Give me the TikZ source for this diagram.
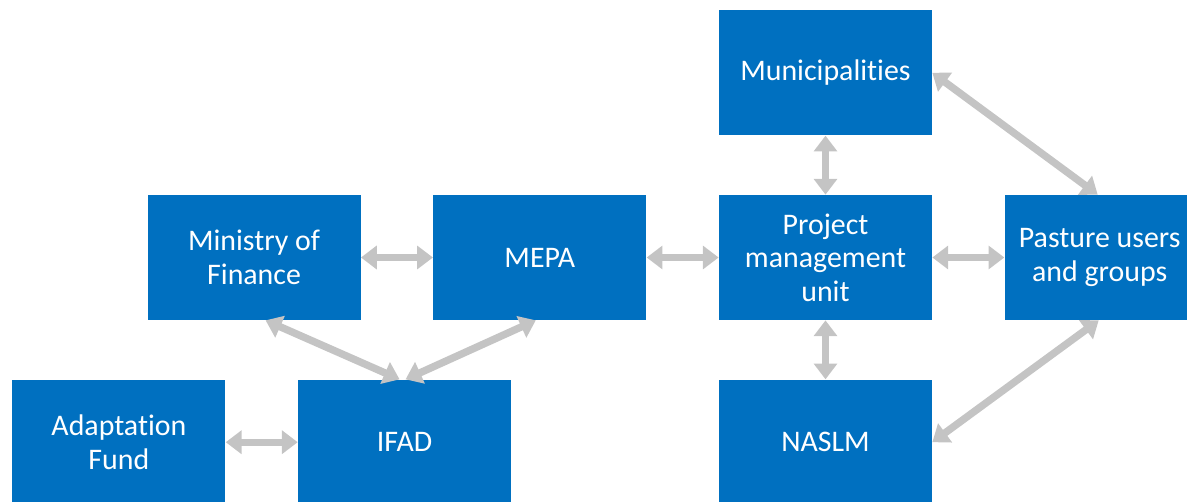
\documentclass[tikz,border=0pt]{standalone}
\usepackage{fontspec}
\setmainfont{Carlito}[Ligatures=NoCommon]
\usetikzlibrary{arrows.meta,positioning}
\definecolor{boxblue}{RGB}{0,112,192}
\definecolor{linkgray}{RGB}{196,196,196}

\begin{document}
\begin{tikzpicture}[node distance=1.18cm and 1.44cm,
    org/.style={rectangle,fill=boxblue,text=white,minimum width=4.26cm,
      minimum height=2.5cm,inner sep=0pt,align=center,
      font=\fontsize{17}{19}\selectfont},
    link/.style={color=linkgray,line width=4.2pt,
      {Triangle[width=13pt,length=9pt]}-{Triangle[width=13pt,length=9pt]}}]
  \useasboundingbox (-16.51,5.15) rectangle (7.23,-4.87);
  \node[org] (PMU) at (0,0) {Project\\management\\unit};
  \node[org] [left=of PMU] (MEPA) {MEPA};
  \node[org] [left=of MEPA] (MoF) {Ministry of\\Finance};
  \node[org,minimum width=3.8cm] [right=of PMU] (PUG) {Pasture users\\and groups};
  \node[org] [above=of PMU] (Mun) {Municipalities};
  \node[org] [below=of PMU] (NASLM) {NASLM};
  \node[org] [below=of MoF,xshift=3.01cm] (IFAD) {IFAD};
  \node[org] [left=of IFAD] (AF) {Adaptation\\Fund};
  % links
  \draw[link] (MoF) -- (MEPA);
  \draw[link] (MEPA) -- (PMU);
  \draw[link] (PMU) -- (PUG);
  \draw[link] (PMU) -- (Mun);
  \draw[link] (PMU) -- (NASLM);
  \draw[link] (AF) -- (IFAD);
  \draw[link] ([xshift=0.23cm]MoF.south) -- ([xshift=-0.1cm]IFAD.north);
  \draw[link] ([xshift=-0.08cm]MEPA.south) -- ([xshift=0.02cm]IFAD.north);
  \draw[link] (Mun.east) -- ([xshift=-0.04cm]PUG.north);
  \draw[link] (NASLM.east) -- ([xshift=-0.02cm]PUG.south);
\end{tikzpicture}
\end{document}
